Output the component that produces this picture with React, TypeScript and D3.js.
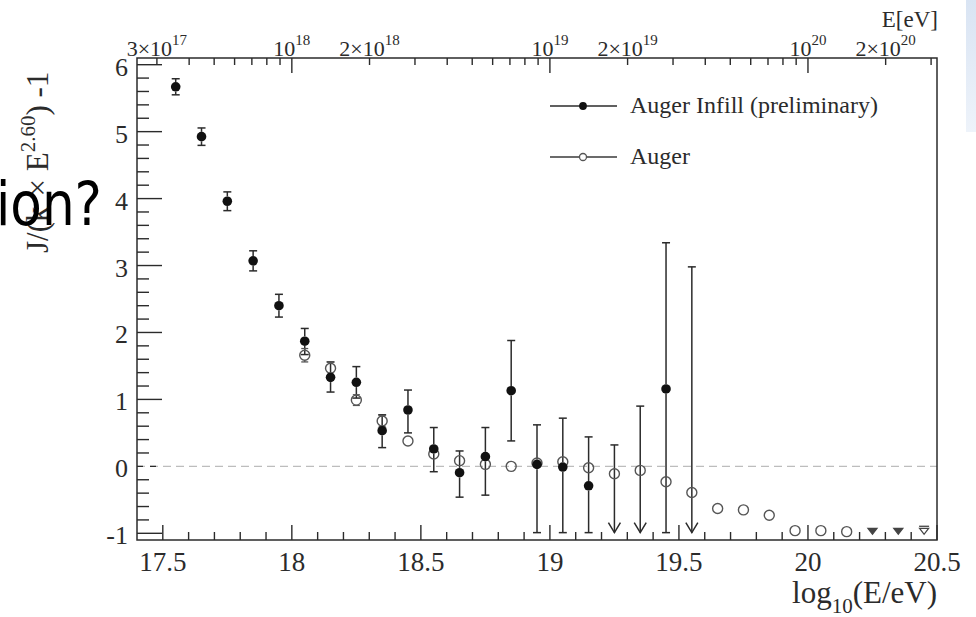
import React from 'react';
import * as d3 from 'd3';

// ---- data ----
const infillE = [17.55, 17.65, 17.75, 17.85, 17.95, 18.05, 18.15, 18.25, 18.35, 18.45, 18.55, 18.65, 18.75, 18.85, 18.95, 19.05, 19.15, 19.45];
const infillVal = [5.67, 4.925, 3.96, 3.07, 2.40, 1.87, 1.33, 1.256, 0.533, 0.842, 0.26, -0.095, 0.145, 1.13, 0.03, -0.01, -0.29, 1.156];
const infillLo = [5.55, 4.795, 3.82, 2.92, 2.23, 1.67, 1.11, 1.02, 0.28, 0.50, -0.08, -0.46, -0.43, 0.38, -0.99, -0.99, -0.99, -0.99];
const infillHi = [5.79, 5.055, 4.10, 3.22, 2.57, 2.06, 1.56, 1.49, 0.77, 1.14, 0.58, 0.23, 0.58, 1.88, 0.62, 0.72, 0.44, 3.34];
const infillLimE = [19.25, 19.35, 19.55];
const infillLimTop = [0.32, 0.90, 2.98];
const limitFloor = -0.99;

const augerE = [18.05, 18.15, 18.25, 18.35, 18.45, 18.55, 18.65, 18.75, 18.85, 18.95, 19.05, 19.15, 19.25, 19.35, 19.45, 19.55, 19.65, 19.75, 19.85, 19.95, 20.05, 20.15];
const augerVal = [1.66, 1.465, 0.99, 0.678, 0.379, 0.185, 0.085, 0.03, 0.0, 0.05, 0.07, -0.02, -0.11, -0.06, -0.23, -0.39, -0.63, -0.65, -0.73, -0.96, -0.96, -0.975];
const augerErr = [0.1, 0.09, 0.08, 0.08, 0.05, 0.05, 0.04, 0.04, 0.04, 0.04, 0.05, 0.05, 0.05, 0.05, 0.05, 0.05, 0.05, 0.05, 0.05, 0.05, 0.05, 0.05];
const augerLimE = [20.25, 20.35, 20.45];
const augerLimVal = [-0.91, -0.91, -0.91];

const yTicks = [-1, 0, 1, 2, 3, 4, 5, 6];
const xTicks = [17.5, 18, 18.5, 19, 19.5, 20, 20.5];
const topLabelMant = [3, 1, 2, 1, 2, 1, 2];
const topLabelExp = [17, 18, 18, 19, 19, 20, 20];

const X0 = 137, X1 = 937, Y0 = 58, Y1 = 540;
const serif = "'Liberation Serif', 'Times New Roman', serif";
const ink = '#2b2b2b';

export default function App() {
  const x = d3.scaleLinear().domain([17.4, 20.5]).range([X0, X1]);
  const y = d3.scaleLinear().domain([-1.1, 6.1]).range([Y1, Y0]);

  const yMinor = d3.range(-1, 6.01, 0.2).map(v => Math.round(v * 10) / 10).filter(v => !yTicks.includes(v));
  const xMinor = d3.range(17.5, 20.501, 0.1).map(v => Math.round(v * 10) / 10).filter(v => !xTicks.includes(v));
  const topTicks: { v: number; major: boolean }[] = [];
  for (let d = 17; d <= 20; d++) {
    for (let m = 1; m <= 9; m++) {
      const v = d + Math.log10(m);
      if (v >= 17.4 && v <= 20.5) topTicks.push({ v, major: m === 1 });
    }
  }

  const rF = 4.8, rO = 5;

  return (
    <svg width={976} height={617} style={{ position: 'absolute', left: 0, top: 0, background: '#fff' }}>
      <rect x={0} y={0} width={976} height={617} fill="#fff" />
      <defs>
        <linearGradient id="blueband" x1="0" x2="0" y1="0" y2="1">
          <stop offset="0" stopColor="#d9e4f3" />
          <stop offset="1" stopColor="#eef3fa" />
        </linearGradient>
      </defs>
      <rect x={966} y={0} width={10} height={132} fill="url(#blueband)" />

      {/* zero dashed line */}
      <line x1={X0} x2={X1} y1={y(0)} y2={y(0)} stroke="#bdbdbd" strokeWidth={1.3} strokeDasharray="8 5" />

      {/* frame */}
      <rect x={X0} y={Y0} width={X1 - X0} height={Y1 - Y0} fill="none" stroke={ink} strokeWidth={1.5} />

      {/* y ticks */}
      {yTicks.map(v => (
        <line key={'ym' + v} x1={X0} x2={X0 + 25} y1={y(v)} y2={y(v)} stroke={ink} strokeWidth={1.4}
          strokeDasharray={v === 0 ? '6 7' : undefined} />
      ))}
      {yMinor.map(v => (
        <line key={'yn' + v} x1={X0} x2={X0 + 12} y1={y(v)} y2={y(v)} stroke={ink} strokeWidth={1.4} />
      ))}
      {yTicks.map(v => (
        <text key={'yl' + v} x={128} y={y(v) + 11} textAnchor="end" fontFamily={serif} fontSize={26} fill={ink}>{v}</text>
      ))}

      {/* bottom x ticks */}
      {xTicks.map(v => (
        <line key={'xm' + v} x1={x(v)} x2={x(v)} y1={Y1} y2={Y1 - 15} stroke={ink} strokeWidth={1.4} />
      ))}
      {xMinor.map(v => (
        <line key={'xn' + v} x1={x(v)} x2={x(v)} y1={Y1} y2={Y1 - 8} stroke={ink} strokeWidth={1.4} />
      ))}
      {xTicks.map(v => (
        <text key={'xl' + v} x={x(v)} y={571} textAnchor="middle" fontFamily={serif} fontSize={27} fill={ink}>{v}</text>
      ))}

      {/* top energy axis */}
      {topTicks.map((t, i) => (
        <line key={'tt' + i} x1={x(t.v)} x2={x(t.v)} y1={Y0} y2={Y0 + (t.major ? 15 : 7)} stroke={ink} strokeWidth={1.4} />
      ))}
      {topLabelExp.map((e, i) => {
        const m = topLabelMant[i];
        const v = e + Math.log10(m);
        return (
          <text key={'tl' + i} x={x(v)} y={56} textAnchor="middle" fontFamily={serif} fontSize={22} fill={ink}>
            {m === 1 ? '10' : `${m}×10`}
            <tspan dy={-11} fontSize={15}>{e}</tspan>
          </text>
        );
      })}
      <text x={938} y={27} textAnchor="end" fontFamily={serif} fontSize={23} fill={ink}>E[eV]</text>

      {/* axis titles */}
      <text x={937} y={603} textAnchor="end" fontFamily={serif} fontSize={31} fill={ink}>
        log<tspan dy={10} fontSize={21}>10</tspan><tspan dy={-10}>(E/eV)</tspan>
      </text>
      <text transform="rotate(-90)" x={-253} y={48} textAnchor="start" fontFamily={serif} fontSize={31} fill={ink}>
        J/(k<tspan dx={10}>× E</tspan><tspan dy={-13} fontSize={21}>2.60</tspan><tspan dy={13}>) -1</tspan>
      </text>

      {/* Infill error bars */}
      {infillE.map((e, i) => {
        const cx = x(e), cy = y(infillVal[i]);
        const yl = y(infillLo[i]), yh = y(infillHi[i]);
        return (
          <g key={'ie' + i} stroke={ink} strokeWidth={1.5}>
            {cy - yh > rF && <line x1={cx} x2={cx} y1={yh} y2={cy - rF} />}
            {yl - cy > rF && <line x1={cx} x2={cx} y1={cy + rF} y2={yl} />}
            <line x1={cx - 4} x2={cx + 4} y1={yh} y2={yh} />
            <line x1={cx - 4} x2={cx + 4} y1={yl} y2={yl} />
          </g>
        );
      })}
      {/* Infill upper limits */}
      {infillLimE.map((e, i) => {
        const cx = x(e), yt = y(infillLimTop[i]), yb = y(limitFloor);
        return (
          <g key={'il' + i} stroke={ink} strokeWidth={1.5} fill="none">
            <line x1={cx} x2={cx} y1={yt} y2={yb} />
            <line x1={cx - 4} x2={cx + 4} y1={yt} y2={yt} />
            <path d={`M${cx - 6},${yb - 10} L${cx},${yb} L${cx + 6},${yb - 10}`} />
          </g>
        );
      })}

      {/* Auger error bars (outside marker only) */}
      {augerE.map((e, i) => {
        const cx = x(e), cy = y(augerVal[i]);
        const yl = y(augerVal[i] - augerErr[i]), yh = y(augerVal[i] + augerErr[i]);
        if (cy - yh <= rO) return null;
        return (
          <g key={'ae' + i} stroke="#555" strokeWidth={1.3}>
            <line x1={cx} x2={cx} y1={yh} y2={cy - rO} />
            <line x1={cx} x2={cx} y1={cy + rO} y2={yl} />
            <line x1={cx - 3.5} x2={cx + 3.5} y1={yh} y2={yh} />
            <line x1={cx - 3.5} x2={cx + 3.5} y1={yl} y2={yl} />
          </g>
        );
      })}

      {/* Auger markers */}
      {augerE.map((e, i) => (
        <circle key={'am' + i} cx={x(e)} cy={y(augerVal[i])} r={rO} fill="none" stroke="#555" strokeWidth={1.4} />
      ))}
      {/* Auger upper limits */}
      {augerLimE.map((e, i) => {
        const cx = x(e), yt = y(augerLimVal[i]);
        const last = i === augerLimE.length - 1;
        return (
          <g key={'al' + i} stroke="#444" strokeWidth={1.3}>
            {last && <line x1={cx - 5} x2={cx + 5} y1={yt - 1} y2={yt - 1} />}
            <path d={`M${cx - 4.5},${yt + 1} L${cx + 4.5},${yt + 1} L${cx},${yt + 7} Z`} fill={last ? 'none' : '#444'} />
          </g>
        );
      })}

      {/* Infill markers */}
      {infillE.map((e, i) => (
        <circle key={'im' + i} cx={x(e)} cy={y(infillVal[i])} r={rF} fill="#111" />
      ))}

      {/* legend */}
      <line x1={550} x2={617} y1={106} y2={106} stroke={ink} strokeWidth={1.4} />
      <circle cx={583} cy={106} r={3.9} fill="#111" />
      <text x={630} y={113} fontFamily={serif} fontSize={24} fill={ink}>Auger Infill (preliminary)</text>
      <line x1={550} x2={579.5} y1={157} y2={157} stroke={ink} strokeWidth={1.4} />
      <line x1={586.5} x2={617} y1={157} y2={157} stroke={ink} strokeWidth={1.4} />
      <circle cx={583} cy={157} r={3.5} fill="none" stroke="#555" strokeWidth={1.3} />
      <text x={630} y={164} fontFamily={serif} fontSize={24} fill={ink}>Auger</text>

      {/* slide overlay text */}
      <text x={-4} y={225} fontFamily="'DejaVu Sans', sans-serif" fontSize={60} fill="#000"
        textLength={106} lengthAdjust="spacingAndGlyphs">ion?</text>
    </svg>
  );
}
